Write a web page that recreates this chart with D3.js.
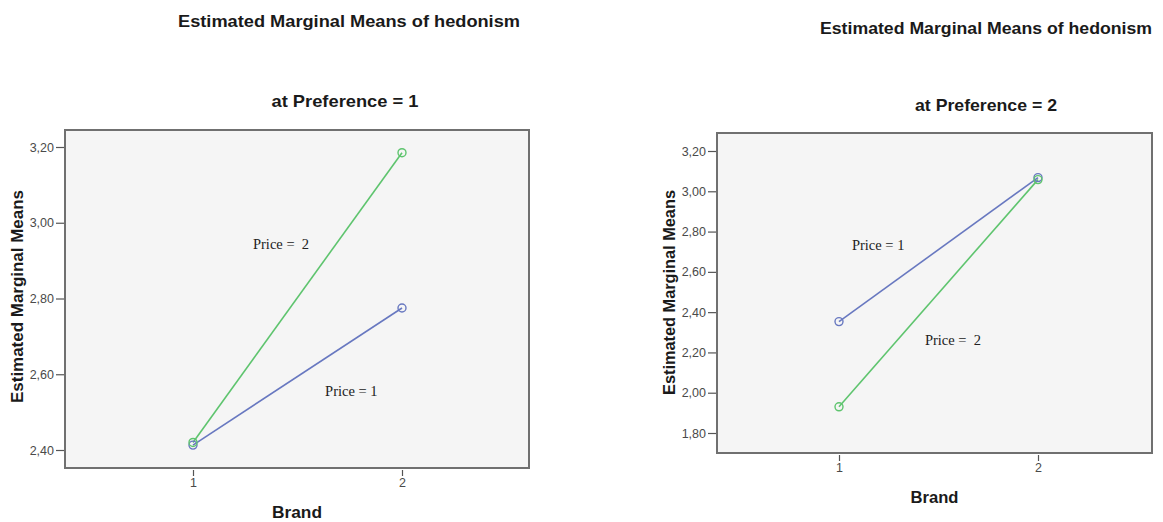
<!DOCTYPE html>
<html>
<head>
<meta charset="utf-8">
<script src="https://cdn.jsdelivr.net/npm/d3@7/dist/d3.min.js"></script>
<style>
  html, body { margin: 0; padding: 0; background: #ffffff; }
  svg { display: block; }
</style>
</head>
<body>
<svg id="chart" width="1163" height="522"></svg>
<script>
// ---------- data ----------
const brands = [1, 2];
const seriesNames = ["Price = 1", "Price = 2"];
const pref1Price1 = [2.413, 2.775];
const pref1Price2 = [2.420, 3.185];
const pref2Price1 = [2.353, 3.068];
const pref2Price2 = [1.930, 3.058];
const pref1Ticks = [2.40, 2.60, 2.80, 3.00, 3.20];
const pref2Ticks = [1.80, 2.00, 2.20, 2.40, 2.60, 2.80, 3.00, 3.20];
const titleText = "Estimated Marginal Means of hedonism";
const subtitles = ["at Preference = 1", "at Preference = 2"];
const yLabel = "Estimated Marginal Means";
const xLabel = "Brand";
// annotation anchors in data units [brand, value]
const pref1Notes = [{text: "Price =  2", at: [1.287, 2.931]}, {text: "Price = 1", at: [1.632, 2.543]}];
const pref2Notes = [{text: "Price = 1", at: [1.065, 2.708]}, {text: "Price =  2", at: [1.432, 2.237]}];

// ---------- styles ----------
const colors = ["#6878c0", "#5ec46e"];
const svg = d3.select("#chart");
const fmt = v => d3.format(".2f")(v).replace(".", ",");

const panels = [
  {
    series: [pref1Price1, pref1Price2], ticks: pref1Ticks, notes: pref1Notes, sub: subtitles[0],
    frame: {x0: 65, x1: 529, y0: 130, y1: 468},
    xpos: [193, 402], ypos: [2.40, 450, 3.20, 147],
    title: {x: 349, y: 27, w: 342}, subT: {x: 345, y: 107, w: 147},
    ylab: {x: 23, y: 296.5, w: 213}, xlab: {y: 518, w: 50}
  },
  {
    series: [pref2Price1, pref2Price2], ticks: pref2Ticks, notes: pref2Notes, sub: subtitles[1],
    frame: {x0: 717, x1: 1152, y0: 133, y1: 453},
    xpos: [839, 1038], ypos: [1.80, 433, 3.20, 151],
    title: {x: 986, y: 34, w: 332}, subT: {x: 986, y: 111, w: 142},
    ylab: {x: 675, y: 292.5, w: 205}, xlab: {y: 503, w: 48}
  }
];

panels.forEach(p => {
  const g = svg.append("g");
  const f = p.frame;
  const xs = d3.scaleLinear().domain([brands[0], brands[1]]).range(p.xpos);
  const ys = d3.scaleLinear().domain([p.ypos[0], p.ypos[2]]).range([p.ypos[1], p.ypos[3]]);

  // titles
  g.append("text").attr("x", p.title.x).attr("y", p.title.y)
    .attr("text-anchor", "middle").attr("font-family", "Liberation Sans, Arial, sans-serif")
    .attr("font-weight", "bold").attr("font-size", 17).attr("fill", "#1a1a1a")
    .attr("textLength", p.title.w).attr("lengthAdjust", "spacingAndGlyphs")
    .text(titleText);
  g.append("text").attr("x", p.subT.x).attr("y", p.subT.y)
    .attr("text-anchor", "middle").attr("font-family", "Liberation Sans, Arial, sans-serif")
    .attr("font-weight", "bold").attr("font-size", 17).attr("fill", "#1a1a1a")
    .attr("textLength", p.subT.w).attr("lengthAdjust", "spacingAndGlyphs")
    .text(p.sub);

  // frame
  g.append("rect").attr("x", f.x0).attr("y", f.y0)
    .attr("width", f.x1 - f.x0).attr("height", f.y1 - f.y0)
    .attr("fill", "#f5f5f5").attr("stroke", "#707070").attr("stroke-width", 2);

  // y axis
  const yAxis = d3.axisLeft(ys).tickValues(p.ticks).tickFormat(fmt).tickSize(8).tickPadding(2);
  const ya = g.append("g").attr("transform", `translate(${f.x0 - 1},0)`).call(yAxis);
  ya.select(".domain").remove();
  ya.selectAll(".tick line").attr("stroke", "#555").attr("stroke-width", 1.2);
  ya.selectAll(".tick text").attr("font-family", "Liberation Sans, Arial, sans-serif")
    .attr("font-size", 12.5).attr("fill", "#4a4a4a");

  // x axis
  const xAxis = d3.axisBottom(xs).tickValues(brands).tickFormat(d3.format("d")).tickSize(6).tickPadding(2);
  const xa = g.append("g").attr("transform", `translate(0,${f.y1 + 2})`).call(xAxis);
  xa.select(".domain").remove();
  xa.selectAll(".tick line").attr("stroke", "#555").attr("stroke-width", 1.2);
  xa.selectAll(".tick text").attr("font-family", "Liberation Sans, Arial, sans-serif")
    .attr("font-size", 12.5).attr("fill", "#4a4a4a");

  // axis labels
  g.append("text").attr("x", (f.x0 + f.x1) / 2).attr("y", p.xlab.y)
    .attr("text-anchor", "middle").attr("font-family", "Liberation Sans, Arial, sans-serif")
    .attr("font-weight", "bold").attr("font-size", 16).attr("fill", "#1a1a1a")
    .attr("textLength", p.xlab.w).attr("lengthAdjust", "spacingAndGlyphs")
    .text(xLabel);
  g.append("text").attr("transform", `translate(${p.ylab.x},${p.ylab.y}) rotate(-90)`)
    .attr("text-anchor", "middle").attr("font-family", "Liberation Sans, Arial, sans-serif")
    .attr("font-weight", "bold").attr("font-size", 16).attr("fill", "#1a1a1a")
    .attr("textLength", p.ylab.w).attr("lengthAdjust", "spacingAndGlyphs")
    .text(yLabel);

  // lines and markers
  const line = d3.line().x((d, i) => xs(brands[i])).y(d => ys(d));
  p.series.forEach((s, si) => {
    g.append("path").datum(s).attr("d", line)
      .attr("fill", "none").attr("stroke", colors[si]).attr("stroke-width", 1.6);
  });
  p.series.forEach((s, si) => {
    g.selectAll(null).data(s).enter().append("circle")
      .attr("cx", (d, i) => xs(brands[i])).attr("cy", d => ys(d)).attr("r", 4)
      .attr("fill", "none").attr("stroke", colors[si]).attr("stroke-width", 1.4);
  });

  // annotations
  p.notes.forEach(n => {
    g.append("text").attr("x", xs(n.at[0])).attr("y", ys(n.at[1]))
      .attr("font-family", "Liberation Serif, Times New Roman, serif")
      .attr("font-size", 14.5).attr("fill", "#222")
      .style("white-space", "pre").attr("xml:space", "preserve")
      .text(n.text);
  });
});
</script>
</body>
</html>
